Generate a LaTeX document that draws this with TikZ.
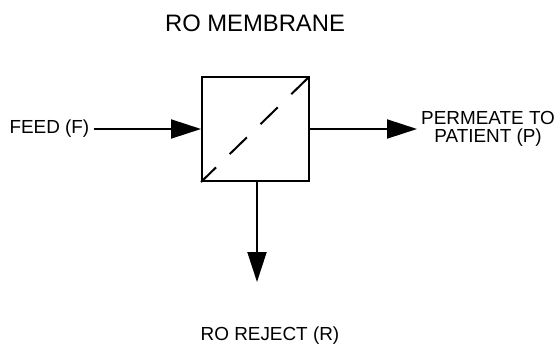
\documentclass[tikz,border=0pt]{standalone}
\usepackage{fontspec}
\setmainfont{Liberation Sans}
\usetikzlibrary{arrows.meta, positioning}

\tikzset{
  flow/.style={line width=2pt, -{Triangle[length=30pt, width=19pt]}},
  streamtext/.style={font=\fontsize{18.9}{18}\selectfont},
}

\begin{document}
\begin{tikzpicture}[x=1pt, y=-1pt]
  \useasboundingbox (0,0) rectangle (558,345);

  % Membrane
  \node[draw, line width=2pt, minimum width=107pt, minimum height=104pt, inner sep=0] (membrane) at (255.5,129) {};
  \draw[line width=2pt, dash pattern=on 24pt off 19pt, dash phase=3pt]
    (membrane.south west) -- (membrane.north east);

  % Labels
  \node[font=\fontsize{23.8}{28}\selectfont] (title) at (255,23.5) {RO MEMBRANE};
  \node[streamtext, anchor=east, inner xsep=4pt] (feed) at (93.5,129) {FEED (F)};
  \node[streamtext, anchor=west, align=center, inner ysep=0, inner xsep=4pt] (permeate) at (417,128.5) {PERMEATE TO\\PATIENT (P)};
  \node[streamtext, anchor=base] (reject) at (270,340) {RO REJECT (R)};
  \coordinate (rejectend) at (257,282);

  % Streams
  \draw[flow] (feed.east) -- (membrane.west);
  \draw[flow] (membrane.east) -- (membrane.east -| permeate.west);
  \draw[flow] (membrane.south -| rejectend) -- (rejectend);
\end{tikzpicture}
\end{document}
